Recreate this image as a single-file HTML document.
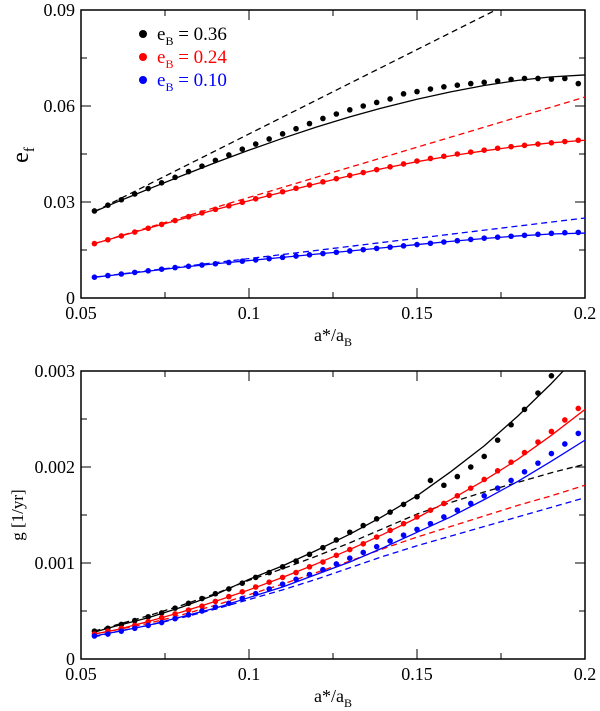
<!DOCTYPE html>
<html><head><meta charset="utf-8"><style>
body{margin:0;background:#fff}
svg{display:block}
text{font-family:"Liberation Serif",serif}
</style></head><body>
<svg id="s" width="600" height="711" xmlns="http://www.w3.org/2000/svg">
<defs>
<clipPath id="c1"><rect x="81" y="10" width="504" height="288"/></clipPath>
<clipPath id="c2"><rect x="81" y="371" width="504" height="288"/></clipPath>
</defs>
</svg>
<script>
const dotX=[.054,.058,.062,.066,.070,.074,.078,.082,.086,.090,.094,.098,.102,.106,.110,.114,.118,.122,.126,.130,.134,.138,.142,.146,.150,.154,.158,.162,.166,.170,.174,.178,.182,.186,.190,.194,.198];
const lineX=[.054,.06,.07,.08,.09,.1,.11,.12,.13,.14,.15,.16,.17,.18,.19,.2];
const linEndX=[.054,.2];
// top panel e_f
const efBlackDots=[.0272,.0290,.0307,.0325,.0342,.0360,.0377,.0395,.0412,.0430,.0447,.0465,.0481,.0497,.0513,.0529,.0545,.0561,.0575,.0588,.0600,.0611,.0622,.0638,.0645,.0653,.0660,.0665,.0670,.0674,.0678,.0683,.0686,.0686,.0684,.0686,.0670];
const efBlackSolid=[.027,.0297,.034,.0382,.0423,.0462,.0499,.0534,.0566,.0595,.0621,.0644,.0664,.068,.0691,.0697];
const efBlackDash=[.027,.104];
const efRedDots=[.0170,.0182,.0194,.0206,.0218,.0230,.0242,.0254,.0266,.0277,.0288,.0299,.0310,.0321,.0332,.0343,.0353,.0363,.0373,.0383,.0392,.0401,.0410,.0419,.0428,.0436,.0443,.0450,.0456,.0462,.0468,.0473,.0477,.0481,.0485,.0489,.0493];
const efRedSolid=[.017,.0188,.0218,.0247,.0276,.0304,.0331,.0357,.0382,.0405,.0426,.0444,.046,.0474,.0485,.0493];
const efRedDash=[.017,.0628];
const efBlueDots=[.0065,.0070,.0075,.0080,.0085,.0090,.0095,.0099,.0103,.0107,.0111,.0115,.0119,.0123,.0127,.0131,.0135,.0139,.0143,.0147,.0151,.0155,.0159,.0163,.0167,.0171,.0175,.0179,.0183,.0187,.0190,.0193,.0196,.0199,.0202,.0204,.0205];
const efBlueSolid=[.0065,.0072,.0084,.0096,.0107,.0117,.0127,.0137,.0147,.0157,.0167,.0177,.0186,.0194,.02,.0203];
const efBlueDash=[.0065,.025];
// bottom panel g
const gBlackDots=[.00029,.00032,.00036,.00040,.00044,.00048,.00053,.00058,.00063,.00068,.00073,.00079,.00085,.00090,.00096,.00102,.00109,.00116,.00124,.00132,.00139,.00146,.00153,.00161,.00169,.00186,.00181,.00190,.00200,.00211,.00228,.00244,.00260,.00277,.00295,.00318,.00340];
const gBlackSolid=[.00028,.00034,.00043,.00054,.00067,.00083,.00097,.00113,.0013,.00149,.0017,.00195,.00222,.00253,.00287,.00324];
const gBlackDash=[.00029,.00035,.00045,.00056,.00068,.00082,.00094,.00107,.00121,.00136,.00151,.00163,.00174,.00184,.00194,.00203];
const gRedDots=[.00026,.00029,.00032,.00035,.00039,.00043,.00047,.00051,.00055,.00060,.00065,.00070,.00075,.00080,.00085,.00090,.00096,.00101,.00108,.00114,.00120,.00127,.00134,.00141,.00148,.00155,.00162,.00170,.00178,.00187,.00196,.00205,.00215,.00226,.00237,.00249,.00261];
const gRedSolid=[.00026,.0003,.00039,.00049,.0006,.00072,.00085,.00099,.00114,.0013,.00147,.00166,.00186,.00208,.00233,.0026];
const gRedDash=[.00026,.0003,.00037,.00046,.00056,.00067,.00078,.0009,.00102,.00115,.00127,.00138,.00149,.0016,.0017,.00181];
const gBlueDots=[.00024,.00026,.00029,.00032,.00035,.00038,.00042,.00046,.00050,.00054,.00058,.00063,.00068,.00073,.00078,.00083,.00088,.00093,.00099,.00105,.00111,.00117,.00123,.00129,.00135,.00141,.00148,.00155,.00162,.00170,.00178,.00186,.00195,.00204,.00214,.00224,.00235];
const gBlueSolid=[.00024,.00028,.00035,.00044,.00053,.00064,.00075,.00088,.00101,.00116,.00132,.00148,.00166,.00185,.00206,.00228];
const gBlueDash=[.00023,.00028,.00035,.00043,.00052,.00062,.00072,.00083,.00095,.00107,.00118,.00128,.00138,.00148,.00158,.00168];
const xTicks=[0.05,0.1,0.15,0.2];
const xTickLabels=["0.05","0.1","0.15","0.2"];
const efTicks=[0,0.03,0.06,0.09];
const efTickLabels=["0","0.03","0.06","0.09"];
const gTicks=[0,0.001,0.002,0.003];
const gTickLabels=["0","0.001","0.002","0.003"];

const S=document.getElementById('s'),NS="http://www.w3.org/2000/svg";
function mk(t,a,p){const e=document.createElementNS(NS,t);for(const k in a)e.setAttribute(k,a[k]);(p||S).appendChild(e);return e;}
function panel(P){
  const L=81,R=585,T=P.top,B=P.bot;
  const sx=v=>L+(v-0.05)/0.15*(R-L), sy=v=>B-(v/P.ymax)*(B-T);
  const g=mk('g',{});
  
  
  const fr=mk('rect',{x:L,y:T,width:R-L,height:B-T,fill:'none',stroke:'#000','stroke-width':1.5},g);
  
  for(let i=0;i<xTicks.length;i++){
    const x=sx(xTicks[i]);
    mk('line',{x1:x,x2:x,y1:B,y2:B-10,stroke:'#000'},g);mk('line',{x1:x,x2:x,y1:T,y2:T+10,stroke:'#000'},g);
    if(i<xTicks.length-1){const m=sx(xTicks[i]+0.025);mk('line',{x1:m,x2:m,y1:B,y2:B-6,stroke:'#000'},g);mk('line',{x1:m,x2:m,y1:T,y2:T+6,stroke:'#000'},g);}
    const t=mk('text',{x:x,y:B+21,'font-size':18,'text-anchor':'middle'},g);t.textContent=xTickLabels[i];
    
  }
  for(let i=0;i<P.ticks.length;i++){
    const y=sy(P.ticks[i]);
    mk('line',{x1:L,x2:L+10,y1:y,y2:y,stroke:'#000'},g);mk('line',{x1:R,x2:R-10,y1:y,y2:y,stroke:'#000'},g);
    if(i<P.ticks.length-1){const m=sy(P.ticks[i]+P.ymax/6);mk('line',{x1:L,x2:L+6,y1:m,y2:m,stroke:'#000'},g);mk('line',{x1:R,x2:R-6,y1:m,y2:m,stroke:'#000'},g);}
    const t=mk('text',{x:L-6,y:y+6,'font-size':18,'text-anchor':'end'},g);t.textContent=P.labels[i];
    
  }
  const xl=mk('text',{x:333,y:B+43,'font-size':18,'text-anchor':'middle'},g);
  xl.innerHTML='a*/a<tspan font-size="12" dy="5">B</tspan>';
  
  const cg=mk('g',{'clip-path':'url(#'+P.clip+')'},g);
  for(const s of P.series){
    if(s.line){const xs=s.line.length==2?linEndX:lineX;
      const pl=mk('polyline',{points:s.line.map((v,i)=>sx(xs[i])+','+sy(v)).join(' '),fill:'none',stroke:s.c,'stroke-width':1.3,'stroke-linejoin':'round','stroke-dasharray':s.dash?'6,4':'none'},cg);
      }
    if(s.dots){for(let i=0;i<s.dots.length;i++){
      const c=mk('circle',{cx:sx(dotX[i]),cy:sy(s.dots[i]),r:2.8,fill:s.c},cg);
      }}
  }
}
panel({name:'ef-panel',top:10,bot:298,ymax:0.09,ticks:efTicks,labels:efTickLabels,clip:'c1',series:[
 {n:'eb036',c:'#000',line:efBlackDash,dash:1},{n:'eb036',c:'#000',line:efBlackSolid},{n:'eb036',c:'#000',dots:efBlackDots},
 {n:'eb024',c:'#f00',line:efRedDash,dash:1},{n:'eb024',c:'#f00',line:efRedSolid},{n:'eb024',c:'#f00',dots:efRedDots},
 {n:'eb010',c:'#00f',line:efBlueDash,dash:1},{n:'eb010',c:'#00f',line:efBlueSolid},{n:'eb010',c:'#00f',dots:efBlueDots}]});
panel({name:'g-panel',top:371,bot:659,ymax:0.003,ticks:gTicks,labels:gTickLabels,clip:'c2',series:[
 {n:'eb036',c:'#000',line:gBlackDash,dash:1},{n:'eb024',c:'#f00',line:gRedDash,dash:1},{n:'eb010',c:'#00f',line:gBlueDash,dash:1},
 {n:'eb036',c:'#000',line:gBlackSolid},{n:'eb036',c:'#000',dots:gBlackDots},
 {n:'eb024',c:'#f00',line:gRedSolid},{n:'eb024',c:'#f00',dots:gRedDots},
 {n:'eb010',c:'#00f',line:gBlueSolid},{n:'eb010',c:'#00f',dots:gBlueDots}]});
// y titles
const y1=mk('text',{x:0,y:0,'font-size':24,'text-anchor':'middle',transform:'translate(28,155) rotate(-90)'});
y1.innerHTML='e<tspan font-size="15" dy="6">f</tspan>';

const y2=mk('text',{x:0,y:0,'font-size':17,'text-anchor':'middle',transform:'translate(23,515) rotate(-90)'});
y2.textContent='g  [1/yr]';

// legend
const leg=[['#000','0.36',34],['#f00','0.24',57],['#00f','0.10',80]];
for(const [c,v,y] of leg){
  const d=mk('circle',{cx:143,cy:y,r:4,fill:c});
  
  const t=mk('text',{x:157,y:y+6,'font-size':19,fill:c});
  t.innerHTML='e<tspan font-size="12" dy="5">B</tspan><tspan dy="-5"> = '+v+'</tspan>';
  
}
</script>
</body></html>
